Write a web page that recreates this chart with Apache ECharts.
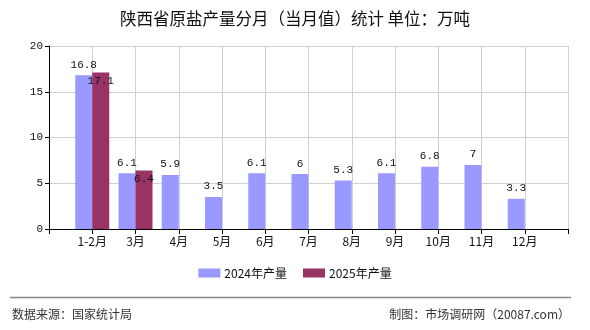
<!DOCTYPE html>
<html>
<head>
<meta charset="utf-8">
<script src="https://cdn.jsdelivr.net/npm/echarts@6/dist/echarts.min.js"></script>
<style>
html,body{margin:0;padding:0;background:#fff;}
#c{width:590px;height:330px;}
</style>
</head>
<body>
<div id="c"></div>
<script>
var categories = ['', '1-2月', '3月', '4月', '5月', '6月', '7月', '8月', '9月', '10月', '11月', '12月', ''];
var values2024 = [null, 16.8, 6.1, 5.9, 3.5, 6.1, 6, 5.3, 6.1, 6.8, 7, 3.3, null];
var values2025 = [null, 17.1, 6.4, null, null, null, null, null, null, null, null, null, null];
var yTicks = [0, 5, 10, 15, 20];

var chart = echarts.init(document.getElementById('c'), null, {renderer: 'canvas'});
var cjk = '"Noto Sans CJK SC", sans-serif';
var mono = '"Liberation Mono", "DejaVu Sans Mono", monospace';
chart.setOption({
  animation: false,
  backgroundColor: '#fff',
  title: {
    text: '陕西省原盐产量分月（当月值）统计 单位：万吨',
    left: 'center',
    top: 5,
    textStyle: {fontFamily: cjk, fontSize: 16.5, fontWeight: 'normal', color: '#111'}
  },
  legend: {
    bottom: 46,
    left: 'center',
    itemWidth: 22,
    itemHeight: 9,
    itemGap: 16,
    icon: 'rect',
    textStyle: {fontFamily: cjk, fontSize: 12, color: '#111', padding: [0, 0, 0, -1]},
    data: ['2024年产量', '2025年产量']
  },
  grid: {left: 49, right: 22, top: 46, bottom: 101},
  xAxis: {
    type: 'category',
    data: categories,
    boundaryGap: false,
    axisLine: {lineStyle: {color: '#000', width: 1}},
    axisTick: {show: true, interval: 0, length: 5, lineStyle: {color: '#000'}},
    axisLabel: {interval: 0, color: '#111', fontFamily: cjk, fontSize: 12, margin: 6},
    splitLine: {show: true, interval: 0, lineStyle: {color: '#d0d0d0', width: 1}}
  },
  yAxis: {
    type: 'value',
    min: yTicks[0],
    max: yTicks[yTicks.length - 1],
    interval: 5,
    axisLine: {show: true, lineStyle: {color: '#000', width: 1}},
    axisTick: {show: true, length: 4, lineStyle: {color: '#000'}},
    axisLabel: {color: '#111', fontFamily: mono, fontSize: 11, margin: 6},
    splitLine: {show: true, lineStyle: {color: '#d0d0d0', width: 1}}
  },
  series: [
    {
      name: '2024年产量',
      type: 'bar',
      data: values2024,
      barWidth: 17,
      barGap: '0%',
      itemStyle: {color: '#9999FF'},
      label: {show: true, position: 'top', distance: 5, color: '#111', fontFamily: mono, fontSize: 11}
    },
    {
      name: '2025年产量',
      type: 'bar',
      data: values2025,
      barWidth: 17,
      barGap: '0%',
      itemStyle: {color: '#993366'},
      label: {show: true, position: 'insideTop', distance: 3, color: '#111', fontFamily: mono, fontSize: 11}
    }
  ],
  graphic: [
    {type: 'line', shape: {x1: 10, y1: 297.5, x2: 571, y2: 297.5}, style: {stroke: '#888', lineWidth: 1.5}},
    {type: 'text', left: 12, top: 308, style: {text: '数据来源：国家统计局', font: '12px "Noto Sans CJK SC"', fill: '#333'}},
    {type: 'text', right: 20, top: 308, style: {text: '制图：市场调研网（20087.com）', font: '12px "Noto Sans CJK SC"', fill: '#333'}}
  ]
});
</script>
</body>
</html>
